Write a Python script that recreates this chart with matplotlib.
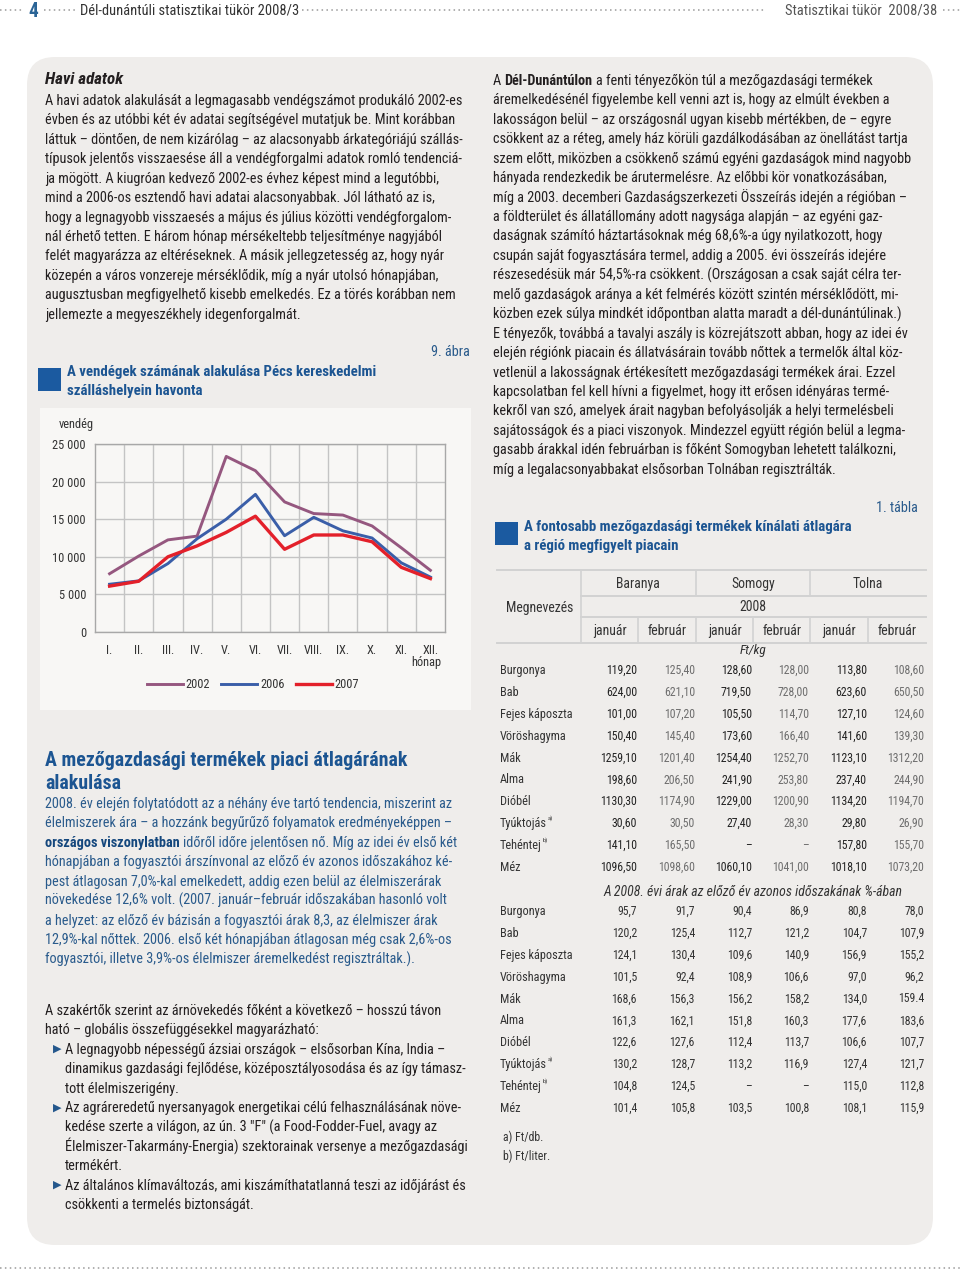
import numpy as np
import matplotlib
matplotlib.use('Agg')
import matplotlib.pyplot as plt
from matplotlib.patches import FancyBboxPatch, Rectangle
from matplotlib import font_manager

# ---------------- data ----------------
months = ['I.', 'II.', 'III.', 'IV.', 'V.', 'VI.', 'VII.', 'VIII.', 'IX.', 'X.', 'XI.', 'XII.']
guests_2002 = [7750, 10100, 12250, 12750, 23350, 21450, 17300, 15750, 15550, 14100, 11200, 8200]
guests_2006 = [6350, 6800, 9100, 12400, 15000, 18300, 12800, 15250, 13450, 12500, 9200, 7300]
guests_2007 = [6100, 6750, 10000, 11450, 13250, 15400, 11000, 12900, 12900, 12000, 8600, 7100]
y_ticks = [0, 5000, 10000, 15000, 20000, 25000]

products = ['Burgonya', 'Bab', 'Fejes káposzta', 'Vöröshagyma', 'Mák', 'Alma', 'Dióbél',
            'Tyúktojás', 'Tehéntej', 'Méz']
product_notes = ['', '', '', '', '', '', '', 'a)', 'b)', '']
counties = ['Baranya', 'Somogy', 'Tolna']
month_names = ['január', 'február']

baranya_jan = ['119,20', '624,00', '101,00', '150,40', '1259,10', '198,60', '1130,30', '30,60', '141,10', '1096,50']
baranya_feb = ['125,40', '621,10', '107,20', '145,40', '1201,40', '206,50', '1174,90', '30,50', '165,50', '1098,60']
somogy_jan = ['128,60', '719,50', '105,50', '173,60', '1254,40', '241,90', '1229,00', '27,40', '–', '1060,10']
somogy_feb = ['128,00', '728,00', '114,70', '166,40', '1252,70', '253,80', '1200,90', '28,30', '–', '1041,00']
tolna_jan = ['113,80', '623,60', '127,10', '141,60', '1123,10', '237,40', '1134,20', '29,80', '157,80', '1018,10']
tolna_feb = ['108,60', '650,50', '124,60', '139,30', '1312,20', '244,90', '1194,70', '26,90', '155,70', '1073,20']

pct_baranya_jan = ['95,7', '120,2', '124,1', '101,5', '168,6', '161,3', '122,6', '130,2', '104,8', '101,4']
pct_baranya_feb = ['91,7', '125,4', '130,4', '92,4', '156,3', '162,1', '127,6', '128,7', '124,5', '105,8']
pct_somogy_jan = ['90,4', '112,7', '109,6', '108,9', '156,2', '151,8', '112,4', '113,2', '–', '103,5']
pct_somogy_feb = ['86,9', '121,2', '140,9', '106,6', '158,2', '160,3', '113,7', '116,9', '–', '100,8']
pct_tolna_jan = ['80,8', '104,7', '156,9', '97,0', '134,0', '177,6', '106,6', '127,4', '115,0', '108,1']
pct_tolna_feb = ['78,0', '107,9', '155,2', '96,2', '159.4', '183,6', '107,7', '121,7', '112,8', '115,9']

left_text = [
    "A havi adatok alakulását a legmagasabb vendégszámot produkáló 2002-es",
    "évben és az utóbbi két év adatai segítségével mutatjuk be. Mint korábban",
    "láttuk – döntően, de nem kizárólag – az alacsonyabb árkategóriájú szállás-",
    "típusok jelentős visszaesése áll a vendégforgalmi adatok romló tendenciá-",
    "ja mögött. A kiugróan kedvező 2002-es évhez képest mind a legutóbbi,",
    "mind a 2006-os esztendő havi adatai alacsonyabbak. Jól látható az is,",
    "hogy a legnagyobb visszaesés a május és július közötti vendégforgalom-",
    "nál érhető tetten. E három hónap mérsékeltebb teljesítménye nagyjából",
    "felét magyarázza az eltéréseknek. A másik jellegzetesség az, hogy nyár",
    "közepén a város vonzereje mérséklődik, míg a nyár utolsó hónapjában,",
    "augusztusban megfigyelhető kisebb emelkedés. Ez a törés korábban nem",
    "jellemezte a megyeszékhely idegenforgalmát.",
]
right_text = [
    "A **Dél-Dunántúlon** a fenti tényezőkön túl a mezőgazdasági termékek",
    "áremelkedésénél figyelembe kell venni azt is, hogy az elmúlt években a",
    "lakosságon belül – az országosnál ugyan kisebb mértékben, de – egyre",
    "csökkent az a réteg, amely ház körüli gazdálkodásában az önellátást tartja",
    "szem előtt, miközben a csökkenő számú egyéni gazdaságok mind nagyobb",
    "hányada rendezkedik be árutermelésre. Az előbbi kör vonatkozásában,",
    "míg a 2003. decemberi Gazdaságszerkezeti Összeírás idején a régióban –",
    "a földterület és állatállomány adott nagysága alapján – az egyéni gaz-",
    "daságnak számító háztartásoknak még 68,6%-a úgy nyilatkozott, hogy",
    "csupán saját fogyasztására termel, addig a 2005. évi összeírás idejére",
    "részesedésük már 54,5%-ra csökkent. (Országosan a csak saját célra ter-",
    "melő gazdaságok aránya a két felmérés között szintén mérséklődött, mi-",
    "közben ezek súlya mindkét időpontban alatta maradt a dél-dunántúlinak.)",
    "E tényezők, továbbá a tavalyi aszály is közrejátszott abban, hogy az idei év",
    "elején régiónk piacain és állatvásárain tovább nőttek a termelők által köz-",
    "vetlenül a lakosságnak értékesített mezőgazdasági termékek árai. Ezzel",
    "kapcsolatban fel kell hívni a figyelmet, hogy itt erősen idényáras termé-",
    "kekről van szó, amelyek árait nagyban befolyásolják a helyi termelésbeli",
    "sajátosságok és a piaci viszonyok. Mindezzel együtt régión belül a legma-",
    "gasabb árakkal idén februárban is főként Somogyban lehetett találkozni,",
    "míg a legalacsonyabbakat elsősorban Tolnában regisztrálták.",
]
market_text = [
    "2008. év elején folytatódott az a néhány éve tartó tendencia, miszerint az",
    "élelmiszerek ára – a hozzánk begyűrűző folyamatok eredményeképpen –",
    "**országos viszonylatban** időről időre jelentősen nő. Míg az idei év első két",
    "hónapjában a fogyasztói árszínvonal az előző év azonos időszakához ké-",
    "pest átlagosan 7,0%-kal emelkedett, addig ezen belül az élelmiszerárak",
    "növekedése 12,6% volt. (2007. január–február időszakában hasonló volt",
    "a helyzet: az előző év bázisán a fogyasztói árak 8,3, az élelmiszer árak",
    "12,9%-kal nőttek. 2006. első két hónapjában átlagosan még csak 2,6%-os",
    "fogyasztói, illetve 3,9%-os élelmiszer áremelkedést regisztráltak.).",
]
expert_text = [
    "A szakértők szerint az árnövekedés főként a következő – hosszú távon",
    "ható – globális összefüggésekkel magyarázható:",
]
bullet_items = [
    ["A legnagyobb népességű ázsiai országok – elsősorban Kína, India –",
     "dinamikus gazdasági fejlődése, középosztályosodása és az így támasz-",
     "tott élelmiszerigény."],
    ["Az agráreredetű nyersanyagok energetikai célú felhasználásának növe-",
     "kedése szerte a világon, az ún. 3 \"F\" (a Food-Fodder-Fuel, avagy az",
     "Élelmiszer-Takarmány-Energia) szektorainak versenye a mezőgazdasági",
     "termékért."],
    ["Az általános klímaváltozás, ami kiszámíthatatlanná teszi az időjárást és",
     "csökkenti a termelés biztonságát."],
]

# ---------------- font choice: prefer a condensed sans ----------------
W, H = 960, 1274
entries = font_manager.fontManager.ttflist
names = {f.name for f in entries}
STRETCH = 'normal'
base = None
for cand in ['Roboto Condensed', 'Liberation Sans Narrow', 'Open Sans Condensed',
             'Noto Sans Condensed', 'Noto Sans Display Condensed']:
    if cand in names:
        base = cand
        break
if base is None:
    cond = [f for f in entries
            if f.stretch in ('condensed', 'semi-condensed', 'extra-condensed')
            and f.name in ('Roboto', 'Noto Sans', 'Open Sans', 'Liberation Sans', 'Lato', 'Inter')]
    if cond:
        base = cond[0].name
        STRETCH = cond[0].stretch
if base is None:
    for cand in ['Roboto', 'Liberation Sans']:
        if cand in names:
            base = cand
            break
FAM = [base, 'DejaVu Sans']
plt.rcParams['font.family'] = FAM
plt.rcParams['font.stretch'] = STRETCH

TXT = '#231f20'
BLUE = '#1c5592'
BLUE_TXT = '#2a5b8c'
BOX = '#efedeb'
PANEL = '#f8f7f5'

fig = plt.figure(figsize=(W / 100, H / 100), dpi=100)
fig.patch.set_facecolor('white')
page = fig.add_axes([0, 0, 1, 1])
page.set_xlim(0, W)
page.set_ylim(H, 0)
page.axis('off')
renderer = fig.canvas.get_renderer()


def twidth(s, size, weight='normal', style='normal'):
    t = page.text(0, 100, s, fontsize=size, fontweight=weight, fontstyle=style, family=FAM,
                  fontstretch=STRETCH)
    w = t.get_window_extent(renderer=renderer).width
    t.remove()
    return w


def fit(s, target, weight='normal', style='normal'):
    return 10.0 * target / twidth(s, 10.0, weight, style)


def T(x, y, s, size, color=TXT, ha='left', weight='normal', style='normal', zorder=5, family=None):
    base_y = y + 0.34 * size * 100 / 72
    return page.text(x, base_y, s, fontsize=size, color=color, ha=ha, va='baseline',
                     fontweight=weight, fontstyle=style, family=family or FAM,
                     fontstretch=STRETCH, zorder=zorder)


def rich(x, y, s, size, color=TXT, bold_color=None):
    sp = twidth('a a', size) - twidth('aa', size)
    parts = s.split('**')
    for i, p in enumerate(parts):
        if not p:
            continue
        bold = (i % 2 == 1)
        if p.startswith(' '):
            x += sp
        ps = p.strip()
        t = T(x, y, ps, size, color=(bold_color or color) if bold else color,
              weight='bold' if bold else 'normal')
        x += t.get_window_extent(renderer=renderer).width
        if p.endswith(' '):
            x += sp


# ---------------- page decorations ----------------
page.add_patch(FancyBboxPatch((27, 57), 906, 1188, boxstyle='round,pad=0,rounding_size=28',
                              facecolor=BOX, edgecolor='none', zorder=0))
dot_kw = dict(color='#9a9a9a', lw=1.1, linestyle=(0, (1, 2.2)), zorder=1)
for x0, x1 in [(0, 22), (44, 76), (302, 765), (943, 960)]:
    page.plot([x0, x1], [10, 10], **dot_kw)
page.plot([0, 960], [1268, 1268], **dot_kw)

hdr = fit("Dél-dunántúli statisztikai tükör 2008/3", 217)
T(33, 10, '4', hdr * 1.35, color='#2a6496', weight='bold', ha='center')
T(80, 10, "Dél-dunántúli statisztikai tükör 2008/3", hdr, color='#333333')
T(937, 10, "Statisztikai tükör  2008/38", hdr, color='#555555', ha='right')

# ---------------- body text ----------------
body = fit(left_text[0], 416)
sp_line = 19.45

T(45, 78, "Havi adatok", fit("Havi adatok", 78, 'bold', 'italic'), weight='bold', style='italic')
for i, line in enumerate(left_text):
    rich(45, 100 + i * sp_line, line, body)

for i, line in enumerate(right_text):
    rich(493, 80 + i * sp_line, line, body)

# chart title block
T(470, 351, "9. ábra", body, color=BLUE_TXT, ha='right')
page.add_patch(Rectangle((38, 368), 23, 23, facecolor='#1b5aa0', edgecolor='none', zorder=2))
ts = fit("A vendégek számának alakulása Pécs kereskedelmi", 311, 'bold')
T(67, 371, "A vendégek számának alakulása Pécs kereskedelmi", ts, color=BLUE, weight='bold')
T(67, 390, "szálláshelyein havonta", ts, color=BLUE, weight='bold')

# chart panel
page.add_patch(Rectangle((40, 408), 431, 302, facecolor=PANEL, edgecolor='none', zorder=1))

# market heading + text
hs = fit("A mezőgazdasági termékek piaci átlagárának", 362, 'bold')
T(45, 759, "A mezőgazdasági termékek piaci átlagárának", hs, color=BLUE, weight='bold')
T(45, 782, "alakulása", hs, color=BLUE, weight='bold')
for i, line in enumerate(market_text):
    rich(45, 803 + i * sp_line, line, body, color=BLUE_TXT, bold_color='#14477d')

for i, line in enumerate(expert_text):
    rich(45, 1010 + i * sp_line, line, body)
row = 2
for item in bullet_items:
    for j, line in enumerate(item):
        y = 1010 + row * sp_line
        if j == 0:
            page.text(57, y, '▶', fontsize=8, color='#24578c', ha='center', va='center',
                      family=['DejaVu Sans'], zorder=5)
        rich(65, y, line, body)
        row += 1

# ---------------- chart ----------------
ax = fig.add_axes([95 / W, 1 - 632 / H, 350 / W, 188 / H])
ax.set_facecolor(PANEL)
xpos = np.arange(len(months)) + 0.5
ax.plot(xpos, guests_2002, color='#95577f', lw=2.1, label='2002', zorder=3)
ax.plot(xpos, guests_2006, color='#3a5ea8', lw=2.1, label='2006', zorder=4)
ax.plot(xpos, guests_2007, color='#e3202a', lw=2.4, label='2007', zorder=5)
ax.set_xlim(0, len(months))
ax.set_ylim(0, 25000)
ax.set_xticks(xpos)
ax.set_xticklabels(months)
ax.set_xticks(np.arange(1, len(months)), minor=True)
ax.set_yticks(y_ticks)
ax.set_yticklabels([f"{v:,}".replace(',', ' ') for v in y_ticks])
ax.grid(which='minor', axis='x', color='#c4c4c4', lw=1.0)
ax.grid(which='major', axis='y', color='#c4c4c4', lw=1.0)
ax.grid(which='major', axis='x', visible=False)
ax.set_axisbelow(True)
for s in ax.spines.values():
    s.set_color('#a8a8a8')
    s.set_linewidth(1.0)
cs = fit("25 000", 33)
ax.tick_params(which='both', length=0)
ax.tick_params(axis='y', labelsize=cs, pad=6.5)
ax.tick_params(axis='x', labelsize=cs, pad=8.5)
for lab in ax.get_xticklabels() + ax.get_yticklabels():
    lab.set_color('#333333')
    lab.set_fontstretch(STRETCH)
T(76, 424, "vendég", cs, color='#333333', ha='center')
T(426, 662, "hónap", cs, color='#333333', ha='center')
leg = fig.legend(handles=ax.get_lines(), loc='center', bbox_to_anchor=(253 / W, 1 - 685 / H),
                 ncol=3, frameon=False, fontsize=cs, handlelength=2.9, handletextpad=0.25,
                 columnspacing=0.9, labelcolor='#333333')
for t in leg.get_texts():
    t.set_fontstretch(STRETCH)

# ---------------- table ----------------
T(918, 507, "1. tábla", body, color=BLUE_TXT, ha='right')
page.add_patch(Rectangle((495, 522), 23, 23, facecolor='#1b5aa0', edgecolor='none', zorder=2))
tt = fit("A fontosabb mezőgazdasági termékek kínálati átlagára", 329, 'bold')
T(524, 526, "A fontosabb mezőgazdasági termékek kínálati átlagára", tt, color=BLUE, weight='bold')
T(524, 545, "a régió megfigyelt piacain", tt, color=BLUE, weight='bold')

tfs = fit("1259,10", 37)
hfs = tfs * 1.16
line_c = '#d2d2d2'
page.plot([497, 926], [570, 570], color=line_c, lw=1.4, zorder=2)
page.plot([581, 926], [596, 596], color=line_c, lw=1.4, zorder=2)
page.plot([581, 926], [617, 617], color=line_c, lw=1.4, zorder=2)
page.plot([497, 926], [643, 643], color=line_c, lw=1.4, zorder=2)
page.plot([581, 581], [570, 643], color=line_c, lw=1.2, zorder=2)
for xv in [695.5, 810]:
    page.plot([xv, xv], [570, 596], color=line_c, lw=1.2, zorder=2)
    page.plot([xv, xv], [617, 643], color=line_c, lw=1.2, zorder=2)
for xv in [638, 753, 867.5]:
    page.plot([xv, xv], [617, 643], color=line_c, lw=1.2, zorder=2)

county_centers = [638, 753, 867.5]
for c, xc in zip(counties, county_centers):
    T(xc, 583, c, hfs, color='#333333', ha='center')
T(540, 607, "Megnevezés", hfs, color='#333333', ha='center')
T(753, 606, "2008", hfs, color='#333333', ha='center')
month_centers = [610, 667, 725, 782, 839, 897]
for k, xc in enumerate(month_centers):
    T(xc, 630, month_names[k % 2], hfs, color='#333333', ha='center')
T(753, 650, "Ft/kg", tfs * 1.12, color='#333333', ha='center', style='italic')

col_right = [637, 695, 752, 809, 867, 924]
price_cols = [baranya_jan, baranya_feb, somogy_jan, somogy_feb, tolna_jan, tolna_feb]
pct_cols = [pct_baranya_jan, pct_baranya_feb, pct_somogy_jan, pct_somogy_feb, pct_tolna_jan, pct_tolna_feb]


def product_label(y, name, note):
    t = T(500, y, name, tfs * 1.04, color='#333333')
    if note:
        w = t.get_window_extent(renderer=renderer).width
        T(500 + w + 0.5, y - 5, note, tfs * 0.55, color='#333333')


row_h = 21.85
for r, (name, note) in enumerate(zip(products, product_notes)):
    y = 670 + r * row_h
    product_label(y, name, note)
    for c, col in enumerate(price_cols):
        T(col_right[c], y, col[r], tfs, color='#222222' if c % 2 == 0 else '#6e6e6e', ha='right')

T(753, 891, "A 2008. évi árak az előző év azonos időszakának %-ában", hfs,
  color='#333333', ha='center', style='italic')
for r, (name, note) in enumerate(zip(products, product_notes)):
    y = 911 + r * row_h
    product_label(y, name, note)
    for c, col in enumerate(pct_cols):
        T(col_right[c], y, col[r], tfs, color='#333333', ha='right')

T(503, 1137, "a) Ft/db.", tfs, color='#333333')
T(503, 1156, "b) Ft/liter.", tfs, color='#333333')

fig.savefig('out.png', dpi=100)
